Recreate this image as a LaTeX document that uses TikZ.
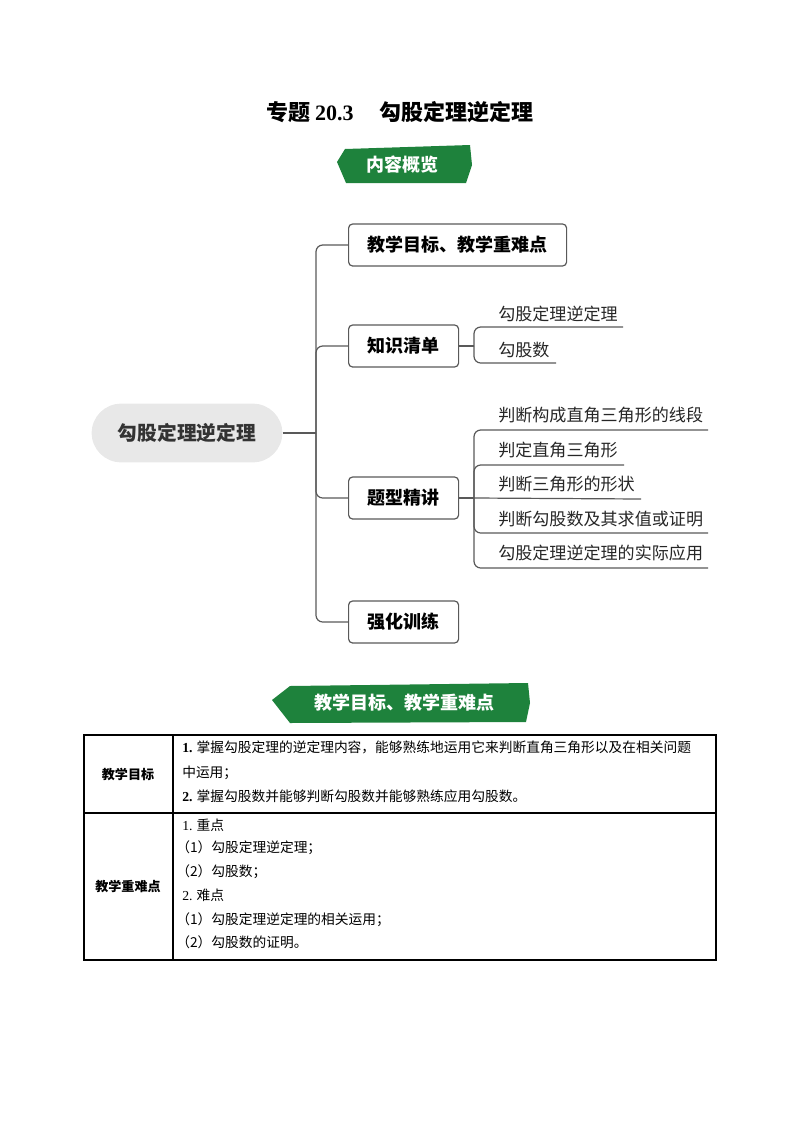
\documentclass[tikz,border=0pt]{standalone}
\usepackage{fontspec}
\setmainfont{Noto Sans CJK SC}
\newfontfamily\latinserif{Liberation Serif}
\begin{document}
\begin{tikzpicture}[x=0.75pt,y=-0.75pt,
  ln/.style={draw=black!65,line width=0.9pt},
  box/.style={ln,rounded corners=3pt,minimum height=31.5pt,font=\bfseries\fontsize{13.5}{15}\selectfont,anchor=west,inner sep=0pt},
  item/.style={anchor=base west,inner sep=0pt,font=\fontsize{12.8}{14}\selectfont,text=black!85},
  cell/.style={anchor=base west,inner sep=0pt,font=\fontsize{10.3}{12}\selectfont},
  banner/.style={fill={rgb,255:red,30;green,130;blue,60}},
  bt/.style={text=white,font=\bfseries\fontsize{13.5}{15}\selectfont}]
\useasboundingbox (0,0) rectangle (800,1132);
% title
\node (title) at (400,112) {\bfseries\fontsize{16.5}{19}\selectfont 专题 {\latinserif\bfseries 20.3}\hspace{1.2em}勾股定理逆定理};
% banner 1
\fill[banner] (345,149) -- (470,145) -- (472,165) -- (466,183) -- (346,183) -- (337,162) -- cycle;
\node[bt] (b1) at (402,165) {内容概览};
% mind map
\node[fill=black!9,rounded corners=22pt,minimum width=143pt,minimum height=44pt,font=\bfseries\fontsize{14.8}{17}\selectfont,text=black!80] (root) at (187,433) {勾股定理逆定理};
\coordinate (tr) at (316,433);
\node[box,minimum width=163.5pt] (m1) at (348,245) {教学目标、教学重难点};
\node[box,minimum width=82.5pt] (m2) at (348,346) {知识清单};
\node[box,minimum width=82.5pt] (m3) at (348,498) {题型精讲};
\node[box,minimum width=82.5pt] (m4) at (348,622) {强化训练};
\draw[ln] (root.east) -- (tr);
\foreach \m in {m1,m2,m3,m4} \draw[ln,rounded corners=5pt] (tr) |- (\m.west);
% knowledge items
\coordinate (k) at (474,346);
\draw[ln] (m2.east) -- (k);
\node[item] (k1) at (498,320) {勾股定理逆定理};
\node[item] (k2) at (498,356) {勾股数};
\coordinate (k1e) at (623,327); \coordinate (k2e) at (556,363);
\draw[ln,rounded corners=5pt] (k) |- (k1e);
\draw[ln,rounded corners=5pt] (k) |- (k2e);
% question types
\coordinate (q) at (474,498);
\draw[ln] (m3.east) -- (q);
\node[item] (q1) at (498,421) {判断构成直角三角形的线段};
\node[item] (q2) at (498,456) {判定直角三角形};
\node[item] (q3) at (498,490) {判断三角形的形状};
\node[item] (q4) at (498,525) {判断勾股数及其求值或证明};
\node[item] (q5) at (498,559) {勾股定理逆定理的实际应用};
\coordinate (q1e) at (708,430); \coordinate (q2e) at (624,465);
\coordinate (q3e) at (641,499); \coordinate (q4e) at (708,533);
\coordinate (q5e) at (708,568);
\foreach \e in {q1e,q2e,q4e,q5e} \draw[ln,rounded corners=5pt] (q) |- (\e);
\draw[ln] (q) -- (q3e);
% banner 2
\fill[banner] (290,686) -- (528,683) -- (530,703) -- (526,722) -- (290,723) -- (272,700) -- cycle;
\node[bt] (b2) at (404,703) {教学目标、教学重难点};
% table
\draw[black,line width=0.8pt] (84,735) rectangle (716,960);
\draw[black,line width=0.8pt] (173,735) -- (173,960);
\draw[black,line width=0.8pt] (84,813) -- (716,813);
\node[font=\bfseries\fontsize{9.8}{11}\selectfont] (l1) at (128,774) {教学目标};
\node[font=\bfseries\fontsize{9.8}{11}\selectfont] (l2) at (128,886) {教学重难点};
\node[cell] (r1) at (182,752) {{\latinserif\bfseries 1.} 掌握勾股定理的逆定理内容，能够熟练地运用它来判断直角三角形以及在相关问题};
\node[cell] (r2) at (182,777) {中运用；};
\node[cell] (r3) at (182,801) {{\latinserif\bfseries 2.} 掌握勾股数并能够判断勾股数并能够熟练应用勾股数。};
\node[cell] (s1) at (182,830) {{\latinserif 1.} 重点};
\node[cell] (s2) at (176,852) {（1）勾股定理逆定理；};
\node[cell] (s3) at (176,876) {（2）勾股数；};
\node[cell] (s4) at (182,900) {{\latinserif 2.} 难点};
\node[cell] (s5) at (176,924) {（1）勾股定理逆定理的相关运用；};
\node[cell] (s6) at (176,947) {（2）勾股数的证明。};
\end{tikzpicture}
\end{document}
